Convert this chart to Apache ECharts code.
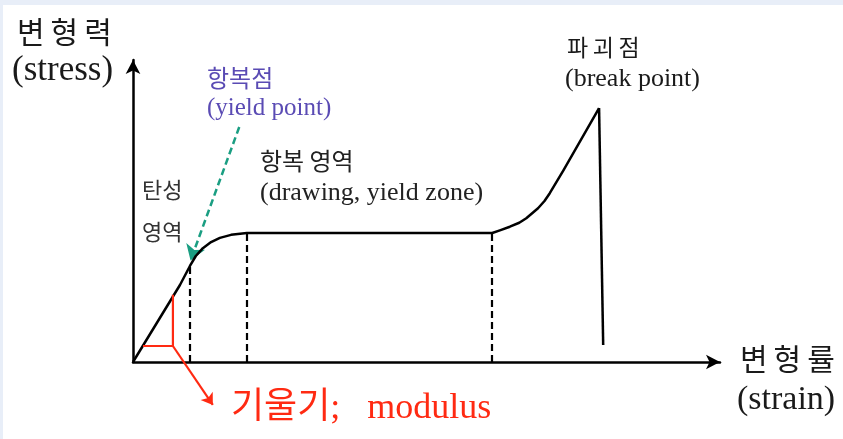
<!DOCTYPE html>
<html>
<head>
<meta charset="utf-8">
<script src="https://cdn.jsdelivr.net/npm/echarts@6/dist/echarts.min.js"></script>
<style>
  html, body { margin: 0; padding: 0; background: #ffffff; }
  #chart { width: 843px; height: 439px; }
</style>
</head>
<body>
<div id="chart"></div>
<script>
// Stress–strain curve of a polymer: elastic region, yield, drawing plateau, hardening, break.
const curveX = [0, 8.0, 9.7, 10.7, 11.9, 13.3, 14.8, 16.7, 19.4, 40.0, 61.2, 62.5, 64.2, 65.8, 67.0, 69.0, 70.1, 71.0, 73.3, 79.4];
const curveY = [0, 25.5, 31.8, 35.1, 37.7, 39.7, 41.1, 42.1, 42.7, 42.7, 42.7, 43.6, 44.8, 46.1, 47.6, 50.9, 53.3, 55.9, 63.4, 84.1];
const breakX = [79.4, 80.1];
const breakY = [84.1, 5.6];

// dashed guides: yield point, end of yield knee, start of strain hardening
const guideX = [9.7, 19.4, 61.2];
const guideTop = [31.8, 42.7, 42.7];

// slope (modulus) triangle and its pointer
const slopeX = [6.8, 6.8, 1.7];
const slopeY = [22.3, 5.3, 5.3];
const slopeArrowX = [6.8, 13.6];
const slopeArrowY = [5.3, -14.2];

// pointer to the yield point
const yieldArrowX = [18.1, 9.8];
const yieldArrowY = [77.8, 33.6];

const labelStressKo = '변\u2009형\u2009력';
const labelStressEn = '(stress)';
const labelStrainKo = '변\u2009형\u2009률';
const labelStrainEn = '(strain)';
const labelYieldKo = '항복점';
const labelYieldEn = '(yield point)';
const labelZoneKo = '항복 영역';
const labelZoneEn = '(drawing, yield zone)';
const labelElastic1 = '탄성';
const labelElastic2 = '영역';
const labelBreakKo = '파\u2009괴\u2009점';
const labelBreakEn = '(break point)';
const labelModulus = '기울기;\u2002 modulus';

const zip = (xs, ys) => xs.map((x, i) => [x, ys[i]]);

const KO = '"Noto Sans CJK KR", sans-serif';
const SERIF = '"Liberation Serif", "Noto Sans CJK KR", serif';

const chart = echarts.init(document.getElementById('chart'), null, { renderer: 'canvas' });

const guideLines = guideX.map((x, i) => ({ coords: [[x, 0], [x, guideTop[i]]] }));

function txt(text, x, y, font, fill) {
  return {
    type: 'text', x: x, y: y, silent: true,
    style: { text: text, font: font, fill: fill, textAlign: 'left', textVerticalAlign: 'middle' }
  };
}

chart.setOption({
  animation: false,
  backgroundColor: '#ffffff',
  grid: { left: 133, right: 123, top: 60, bottom: 77 },
  xAxis: {
    type: 'value', min: 0, max: 100,
    axisLine: { show: true, onZero: false, symbol: ['none', 'arrow'], symbolSize: [11, 14],
      lineStyle: { color: '#000', width: 2.5 } },
    axisTick: { show: false }, axisLabel: { show: false }, splitLine: { show: false }
  },
  yAxis: {
    type: 'value', min: 0, max: 100,
    axisLine: { show: true, onZero: false, symbol: ['none', 'arrow'], symbolSize: [11, 14],
      lineStyle: { color: '#000', width: 2.5 } },
    axisTick: { show: false }, axisLabel: { show: false }, splitLine: { show: false }
  },
  series: [
    {
      type: 'line', data: zip(curveX, curveY), smooth: false,
      showSymbol: false, symbol: 'none', clip: false,
      lineStyle: { color: '#000', width: 2.5, join: 'round' }
    },
    {
      type: 'line', data: zip(breakX, breakY), showSymbol: false, symbol: 'none', clip: false,
      lineStyle: { color: '#000', width: 2.5 }
    },
    {
      type: 'lines', coordinateSystem: 'cartesian2d', data: guideLines, symbol: 'none',
      lineStyle: { color: '#000', width: 2.2, type: [7, 4], opacity: 1 }
    },
    {
      type: 'line', data: zip(slopeX, slopeY), showSymbol: false, symbol: 'none', clip: false,
      lineStyle: { color: '#ff2a12', width: 2.2 }
    },
    {
      type: 'lines', coordinateSystem: 'cartesian2d', clip: false,
      data: [{ coords: zip(slopeArrowX, slopeArrowY) }],
      symbol: ['none', 'arrow'], symbolSize: 11,
      lineStyle: { color: '#ff2a12', width: 2.2, opacity: 1 }
    },
    {
      type: 'lines', coordinateSystem: 'cartesian2d', clip: false,
      data: [{ coords: zip(yieldArrowX, yieldArrowY) }],
      symbol: ['none', 'arrow'], symbolSize: 15,
      lineStyle: { color: '#1a9e82', width: 2.5, type: [7, 4], opacity: 1 }
    }
  ],
  graphic: [
    { type: 'rect', shape: { x: 0, y: 0, width: 843, height: 5 }, style: { fill: '#e8eef8' }, silent: true },
    { type: 'rect', shape: { x: 0, y: 0, width: 3, height: 439 }, style: { fill: '#e8eef8' }, silent: true },
    txt(labelStressKo, 17, 32, '30px ' + KO, '#1a1a1a'),
    txt(labelStressEn, 12, 71, '35px ' + SERIF, '#1a1a1a'),
    txt(labelYieldKo, 207, 78, '24px ' + KO, '#5a4bb4'),
    txt(labelYieldEn, 207, 108, '25px ' + SERIF, '#5a4bb4'),
    txt(labelZoneKo, 260, 161, '24px ' + KO, '#222'),
    txt(labelZoneEn, 260, 193, '26px ' + SERIF, '#222'),
    txt(labelElastic1, 142, 190, '22px ' + KO, '#333'),
    txt(labelElastic2, 142, 232, '22px ' + KO, '#333'),
    txt(labelBreakKo, 567, 47, '23px ' + KO, '#1a1a1a'),
    txt(labelBreakEn, 565, 79, '26px ' + SERIF, '#1a1a1a'),
    txt(labelStrainKo, 740, 359, '30px ' + KO, '#1a1a1a'),
    txt(labelStrainEn, 737, 400, '34px ' + SERIF, '#1a1a1a'),
    txt(labelModulus, 231, 409, '36px ' + SERIF, '#ff2a12')
  ]
});
</script>
</body>
</html>
